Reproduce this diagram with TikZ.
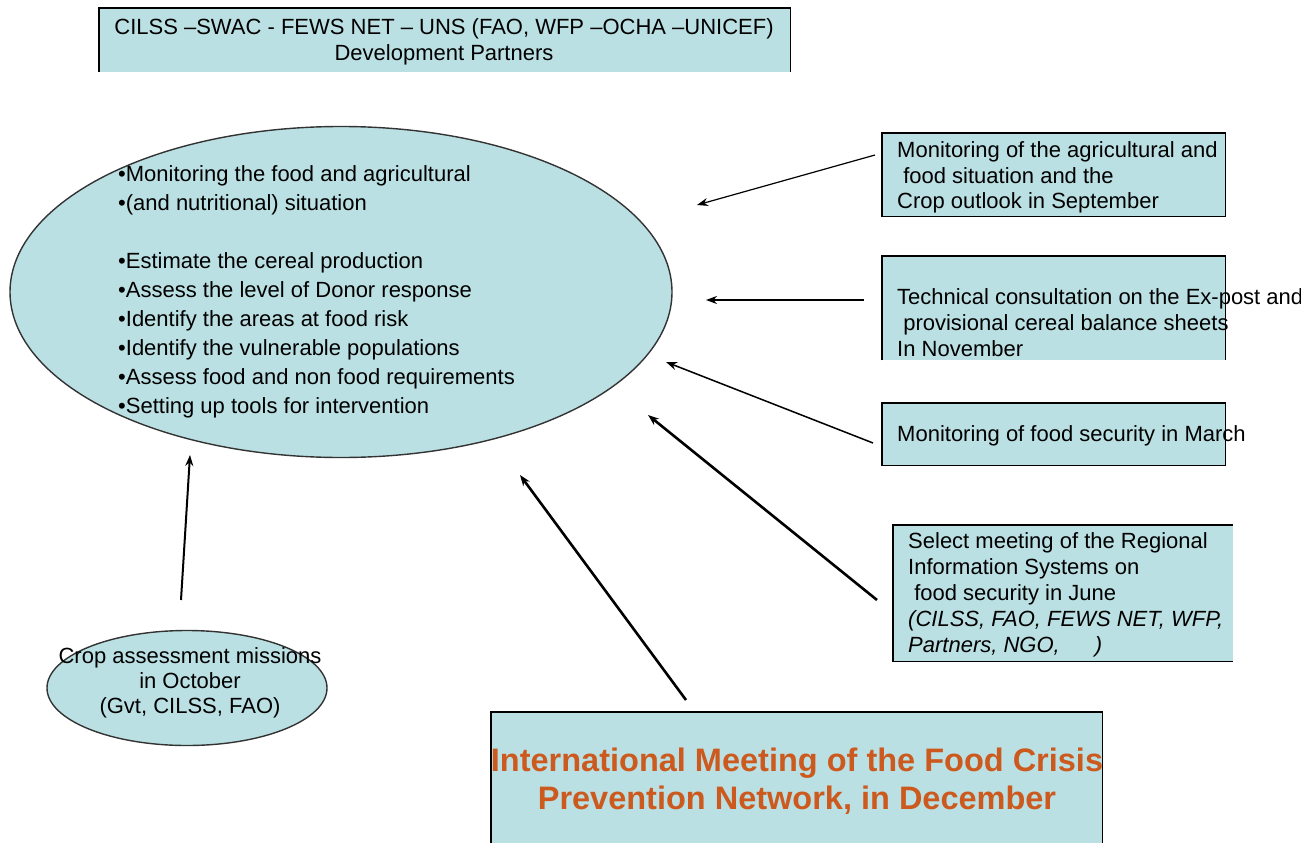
\documentclass[tikz,border=0pt]{standalone}
\usepackage{fontspec}
\setmainfont{Liberation Sans}
\usetikzlibrary{shapes.geometric,arrows.meta}
\definecolor{panelfill}{RGB}{187,224,227}
\definecolor{titleorange}{RGB}{204,90,30}
\begin{document}
\begin{tikzpicture}[x=1pt,y=-1pt,
  panel/.style={fill=panelfill,inner sep=0pt,anchor=north west},
  edge/.style={draw=black,line width=1.4pt},
  oval/.style={ellipse,fill=panelfill,draw=black!80,line width=1.4pt,inner sep=0pt},
  txt/.style={inner sep=0pt,anchor=north west,align=left,font=\fontsize{22}{26}\selectfont},
  ctxt/.style={inner sep=0pt,align=center,font=\fontsize{22}{26}\selectfont},
  arr/.style={-{Stealth[length=11pt,width=8pt]},line width=#1},
  arr/.default=2pt]
\useasboundingbox (0,0) rectangle (1301,843);

% top box
\node[panel,minimum width=691pt,minimum height=64pt] (top) at (99,8) {};
\draw[edge] (top.south west) |- (top.north east) -- (top.south east);
\node[ctxt] (toptext) at (444,42) {CILSS --SWAC - FEWS NET -- UNS (FAO, WFP --OCHA --UNICEF)\\Development Partners};

% main ellipse
\node[oval,minimum width=662pt,minimum height=331pt] (main) at (341,292) {};
\node[txt,font=\fontsize{22}{29}\selectfont] (maintext) at (118,165.5) {\rule{0pt}{16pt}•Monitoring the food and agricultural\\
•(and nutritional) situation\\
\\
•Estimate the cereal production\\
•Assess the level of Donor response\\
•Identify the areas at food risk\\
•Identify the vulnerable populations\\
•Assess food and non food requirements\\
•Setting up tools for intervention};

% box 1
\node[panel,minimum width=343pt,minimum height=83pt] (b1) at (882,133) {};
\draw[edge] (b1.north west) rectangle (b1.south east);
\node[txt,font=\fontsize{22}{25.5}\selectfont] (b1text) at (897,141.5) {\rule{0pt}{16pt}Monitoring of the agricultural and\\
\ food situation and the\\
Crop outlook in September};

% box 2
\node[panel,minimum width=343pt,minimum height=104pt] (b2) at (882,256) {};
\draw[edge] (b2.south west) |- (b2.north east) -- (b2.south east);
\node[txt] (b2text) at (897,288.5) {\rule{0pt}{16pt}Technical consultation on the Ex-post and\\
\ provisional cereal balance sheets\\
In November};

% box 3
\node[panel,minimum width=343pt,minimum height=62pt] (b3) at (882,403) {};
\draw[edge] (b3.north west) rectangle (b3.south east);
\node[txt] (b3text) at (897,425.5) {\rule{0pt}{16pt}Monitoring of food security in March};

% box 4
\node[panel,minimum width=340pt,minimum height=136pt] (b4) at (893,525) {};
\draw[edge] (b4.north east) -- (b4.north west) -- (b4.south west) -- (b4.south east);
\node[txt] (b4text) at (908,532.5) {\rule{0pt}{16pt}Select meeting of the Regional\\
Information Systems on\\
\ food security in June\\
\itshape (CILSS, FAO, FEWS NET, WFP,\\
\itshape Partners, NGO,\hspace{1.6em})};

% small ellipse
\node[oval,minimum width=280pt,minimum height=115pt] (crop) at (187,688) {};
\node[ctxt,font=\fontsize{22}{25}\selectfont] (croptext) at (190,683) {Crop assessment missions\\in October\\(Gvt, CILSS, FAO)};

% bottom box
\node[panel,minimum width=611pt,minimum height=140pt] (bot) at (491,712) {};
\draw[edge] (bot.south west) |- (bot.north east) -- (bot.south east);
\node[ctxt,font=\fontsize{32.5}{38}\bfseries\selectfont,text=titleorange] (bottext) at (797,781) {International Meeting of the Food Crisis\\Prevention Network, in December};

% arrow end points
\coordinate (s1) at (875,155);  \coordinate (e1) at (697,205);
\coordinate (s2) at (864,300);  \coordinate (e2) at (706,300);
\coordinate (s3) at (873,443);  \coordinate (e3) at (666,362);
\coordinate (s4) at (877,600);  \coordinate (e4) at (648,415);
\coordinate (s5) at (686,700);  \coordinate (e5) at (520,475);
\coordinate (s6) at (181,600);  \coordinate (e6) at (190,455);

\draw[arr=1.2pt] (s1) -- (e1);
\draw[arr=2.6pt] (s2) -- (e2);
\draw[arr=1.5pt] (s3) -- (e3);
\draw[arr=2.6pt] (s4) -- (e4);
\draw[arr=2.6pt] (s5) -- (e5);
\draw[arr=2pt] (s6) -- (e6);
\end{tikzpicture}
\end{document}
